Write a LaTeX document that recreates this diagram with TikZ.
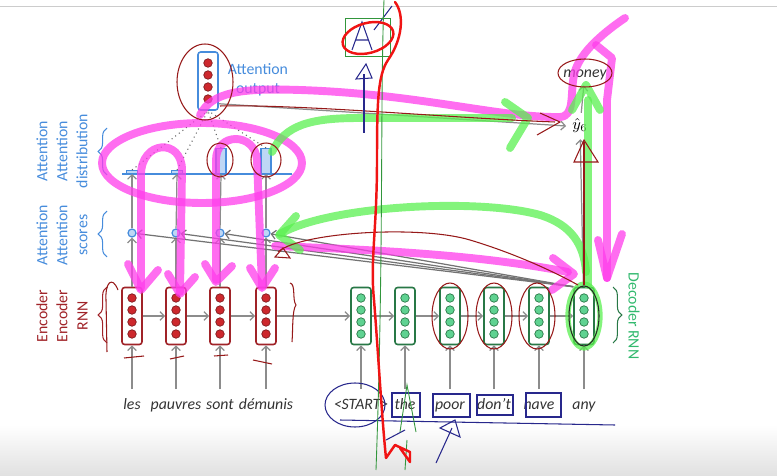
\documentclass[tikz,border=0pt]{standalone}
\usepackage{fontspec}
\setmainfont{Carlito}
\usetikzlibrary{arrows.meta,decorations.pathreplacing}

\definecolor{encred}{RGB}{160,35,40}
\definecolor{encfill}{RGB}{205,40,45}
\definecolor{decgreen}{RGB}{40,120,70}
\definecolor{decfill}{RGB}{95,210,145}
\definecolor{declabel}{RGB}{50,185,110}
\definecolor{attblue}{RGB}{70,140,220}
\definecolor{barfill}{RGB}{190,215,245}
\definecolor{penpink}{RGB}{255,60,235}
\definecolor{pengreen}{RGB}{90,240,80}
\definecolor{penred}{RGB}{240,20,20}
\definecolor{inkred}{RGB}{150,25,25}
\definecolor{inkblue}{RGB}{40,40,140}
\definecolor{inkgreen}{RGB}{50,150,60}

\tikzset{
  enccell/.style={draw=encred,line width=0.9pt,rounded corners=1.5pt,minimum width=0.4cm,minimum height=1.14cm,inner sep=0pt},
  deccell/.style={enccell,draw=decgreen},
  encdot/.style={draw=encred!80!black,fill=encfill,line width=0.4pt},
  decdot/.style={draw=decgreen,fill=decfill,line width=0.4pt},
  word/.style={font=\fontsize{9}{11}\selectfont\itshape,text=black!80,text height=1.6ex,text depth=0.45ex,inner xsep=1pt,inner ysep=4pt},
  score/.style={circle,draw=attblue,fill=barfill,line width=0.7pt,minimum size=0.16cm,inner sep=0pt},
  attbar/.style={draw=attblue,fill=barfill,line width=0.6pt,inner sep=0pt,anchor=south},
  side/.style={rotate=90,align=center,font=\fontsize{9}{11.4}\selectfont},
  arr/.style={-{Straight Barb[length=2.5pt,width=5pt]},draw=black!45,line width=0.7pt},
  hlpink/.style={draw=penpink,draw opacity=0.75,line width=4.5pt,line cap=round,line join=round},
  hlgreen/.style={draw=pengreen,draw opacity=0.75,line width=4.5pt,line cap=round,line join=round},
  inkr/.style={draw=inkred,line width=0.6pt},
  inkb/.style={draw=inkblue,line width=0.6pt},
  inkg/.style={draw=inkgreen,line width=0.5pt},
  redpen/.style={draw=penred,line width=1.4pt,line cap=round,line join=round},
  curly/.style={decorate,decoration={brace,amplitude=5pt},line width=0.6pt}
}

\begin{document}
\begin{tikzpicture}[x=0.02cm,y=-0.02cm]
\useasboundingbox (0,0) rectangle (777,476);
\shade[top color=white,bottom color=black!12] (0,425) rectangle (777,476);
\draw[black!20] (0,6) -- (777,6);

% encoder
\foreach \n/\x/\t in {les/132/les, pauvres/176/pauvres, sont/220/sont, demunis/266/démunis}{
  \node[enccell] (e-\n) at (\x,316) {};
  \foreach \dy in {-18,-6,6,18} \draw[encdot] (\x,316+\dy) circle (0.085cm);
  \node[word] (w-\n) at (\x,405) {\t};
  \draw[arr] (w-\n) -- (e-\n);
  \node[score] (s-\n) at (\x,233) {};
  \draw[arr] (e-\n) -- (s-\n);
}
% decoder
\foreach \n/\x/\t in {1/361/<START>, 2/405/the, 3/450/poor, 4/494/don't, 5/539/have, 6/584/any}{
  \node[deccell] (d\n) at (\x,316) {};
  \foreach \dy in {-18,-6,6,18} \draw[decdot] (\x,316+\dy) circle (0.085cm);
  \node[word] (w\n) at (\x,405) {\t};
  \draw[arr] (w\n) -- (d\n);
}
\draw[arr] (e-les) -- (e-pauvres);
\draw[arr] (e-pauvres) -- (e-sont);
\draw[arr] (e-sont) -- (e-demunis);
\draw[arr] (e-demunis) -- (d1);
\foreach \a/\b in {1/2,2/3,3/4,4/5,5/6} \draw[arr] (d\a) -- (d\b);

% attention distribution
\draw[attblue,line width=0.8pt] (122,174) -- (292,174);
\node[attbar,minimum width=0.22cm,minimum height=0.06cm] (b-les) at (132,174) {};
\node[attbar,minimum width=0.22cm,minimum height=0.06cm] (b-pauvres) at (177,174) {};
\node[attbar,minimum width=0.2cm,minimum height=0.5cm] (b-sont) at (221,174) {};
\node[attbar,minimum width=0.2cm,minimum height=0.5cm] (b-demunis) at (266,174) {};
\foreach \n in {les,pauvres,sont,demunis} \draw[arr] (s-\n) -- (b-\n.south);

% attention output
\node[draw=attblue,fill=white,line width=0.9pt,rounded corners=1.5pt,minimum width=0.4cm,minimum height=1.16cm,inner sep=0pt] (ao) at (208,81) {};
\foreach \dy in {-18,-6,6,18} \draw[encdot] (208,81+\dy) circle (0.085cm);
\foreach \n in {les,pauvres,sont,demunis} \draw[dotted,black!60,line width=0.6pt] (b-\n.north) -- (ao.south);
\node[align=center,text=attblue,font=\fontsize{9}{11}\selectfont] (ao-lbl) at (258,80) {Attention\\output};

% output
\node[font=\fontsize{9}{11}\selectfont] (yhat) at (580,126) {$\hat{y}_6$};
\node[word,inner ysep=2pt] (money) at (585,73) {money};
\draw[arr] (d6) -- (yhat);
\draw[arr] (yhat) -- (money);
\draw[arr] ([yshift=4pt]ao.south east) -- (yhat.west);
\foreach \n in {les,pauvres,sont,demunis} \draw[arr,draw=black!55] (d6.north west) -- (s-\n);

% side labels
\node[side,text=attblue] (lbl-dist) at (62,151) {Attention\\Attention\\distribution};
\node[side,text=attblue] (lbl-score) at (62,235) {Attention\\Attention\\scores};
\node[side,text=encred] (lbl-enc) at (62,316) {Encoder\\Encoder\\RNN};
\node[rotate=-90,text=declabel,font=\fontsize{9}{11}\selectfont] (lbl-dec) at (634,316) {Decoder RNN};
\draw[curly,attblue] (107,175) -- (107,128);
\draw[curly,attblue] (107,257) -- (107,211);
\draw[curly,encred] (107,343) -- (107,287);
\draw[curly,decgreen] (613,287) -- (613,343);

% pen annotations
\draw[hlpink] (202,163) ellipse [x radius=2cm,y radius=0.8cm];
\draw[hlpink] (141,288) -- (141,175) .. controls (141,140) and (182,138) .. (182,170) -- (180,292);
\draw[hlpink] (216,280) -- (216,160) .. controls (216,132) and (255,132) .. (257,160) -- (262,286);
\draw[hlpink] (128,264) -- (141,290) -- (158,270);
\draw[hlpink] (168,274) -- (180,294) -- (195,277);
\draw[hlpink] (205,264) -- (216,282) -- (232,266);
\draw[hlpink] (250,268) -- (262,288) -- (275,268);
\draw[hlpink] (200,115) .. controls (212,92) and (240,88) .. (300,90) .. controls (420,94) and (500,118) .. (560,117) .. controls (575,116) and (570,95) .. (574,75) .. controls (578,55) and (600,35) .. (625,18);
\draw[hlpink] (596,45) -- (612,58) -- (607,100) -- (607,278);
\draw[hlpink] (598,240) -- (607,278) -- (622,234);
\draw[hlpink] (275,246) .. controls (380,250) and (480,255) .. (568,272);
\draw[hlpink] (553,258) -- (574,274) -- (552,290);

\draw[hlgreen] (272,152) .. controls (285,125) and (310,118) .. (360,118) -- (512,118);
\draw[hlgreen] (505,102) -- (528,118) -- (510,148);
\draw[hlgreen] (588,100) -- (588,285);
\draw[hlgreen] (572,110) -- (586,85) -- (600,110);
\draw[hlgreen,line width=3pt] (584,316) ellipse [x radius=0.32cm,y radius=0.64cm];
\draw[hlgreen] (280,234) .. controls (330,205) and (480,198) .. (540,215) .. controls (572,225) and (584,245) .. (586,272);
\draw[hlgreen] (296,216) -- (279,235) -- (300,250);

\draw[inkr] (205,82) ellipse [x radius=0.56cm,y radius=0.76cm];
\draw[inkr] (220,160) ellipse [x radius=0.26cm,y radius=0.34cm];
\draw[inkr] (266,160) ellipse [x radius=0.3cm,y radius=0.34cm];
\draw[inkr] (585,73) ellipse [x radius=0.54cm,y radius=0.28cm];
\foreach \x in {450,494,537} \draw[inkr] (\x,316) ellipse [x radius=0.36cm,y radius=0.66cm];
\draw[draw=black!85,line width=0.6pt] (584,316) ellipse [x radius=0.3cm,y radius=0.6cm];
\draw[inkr] (584,285) -- (584,142);
\draw[inkr] (574,162) -- (584,140) -- (598,162) -- cycle;
\draw[inkr] (220,106) .. controls (300,104) and (450,118) .. (555,122);
\draw[inkr] (540,113) -- (560,122) -- (537,135);
\draw[inkr] (278,252) .. controls (300,232) and (420,225) .. (470,240) .. controls (520,255) and (560,275) .. (578,285);
\draw[inkr] (275,257) -- (283,248) -- (290,258) -- cycle;
\draw[inkr] (118,290) .. controls (112,275) and (105,283) .. (106,300) -- (107,352);
\draw[inkr] (290,283) .. controls (296,284) and (292,300) .. (296,305) .. controls (292,310) and (293,330) .. (292,342);
\draw[inkr] (124,358) -- (144,356);
\draw[inkr] (170,359) -- (184,356);
\draw[inkr] (214,356) -- (228,355);
\draw[inkr] (253,360) -- (272,364);

\draw[inkb] (352,50) -- (362,22) -- (372,50) (356,40) -- (368,40) (374,30) -- (392,6);
\draw[inkb] (364,133) -- (364,74);
\draw[inkb] (356,79) -- (366,64) -- (372,78) -- cycle;
\draw[inkb] (355,405) ellipse [x radius=0.6cm,y radius=0.44cm];
\draw[inkb] (392,393) rectangle (420,417);
\draw[inkb] (433,394) rectangle (470,417);
\draw[inkb] (477,395) rectangle (513,415);
\draw[inkb] (526,393) rectangle (561,417);
\draw[inkb] (340,420) -- (615,425);
\draw[inkb] (436,463) -- (452,428);
\draw[inkb] (440,428) -- (455,420) -- (460,437) -- cycle;
\draw[inkb] (386,440) -- (405,430);

\draw[inkg] (345,18) rectangle (390,56);
\draw[inkg] (384,0) .. controls (380,100) and (384,250) .. (376,470);
\draw[inkg] (400,432) -- (407,385) -- (416,432) (405,470) -- (407,440);

\draw[redpen] (395,2) .. controls (405,15) and (402,40) .. (388,60) .. controls (378,75) and (377,100) .. (377,160) .. controls (377,230) and (370,260) .. (374,300) .. controls (378,350) and (382,420) .. (386,458) -- (395,445) -- (410,452) -- (410,462) -- (400,448);
\draw[redpen,rotate around={15:(368,38)}] (368,38) ellipse [x radius=0.52cm,y radius=0.3cm];
\end{tikzpicture}
\end{document}
